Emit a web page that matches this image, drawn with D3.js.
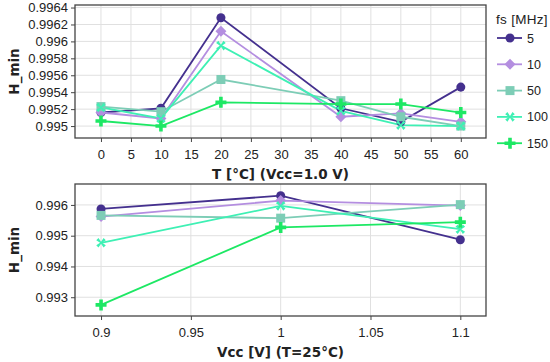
<!DOCTYPE html>
<html><head><meta charset="utf-8">
<script src="https://cdn.jsdelivr.net/npm/d3@7"></script>
<style>body{margin:0;background:#fff}svg{font-family:"DejaVu Sans",Verdana,sans-serif}</style>
</head><body><svg id="c" width="550" height="362"></svg>
<script>
const seriesNames = ["5","10","50","100","150"];
const colors = ["#44308e","#b48ee0","#7dcdb6","#3ef0b4","#1de864"];
const symbols = ["circle","diamond","square","x","cross"];
const tempX = [0,10,20,40,50,60];
const tempVals = [
  [0.99516,0.99521,0.99628,0.99521,0.99505,0.99546],
  [0.99516,0.99509,0.99612,0.99511,0.99515,0.99505],
  [0.99523,0.99517,0.99555,0.99530,0.99511,0.99500],
  [0.99522,0.99509,0.99595,0.99518,0.99501,0.99500],
  [0.99506,0.99500,0.99528,0.99526,0.99526,0.99516]
];
const vccX = [0.9,1.0,1.1];
const vccVals = [
  [0.99587,0.99630,0.99487],
  [0.99562,0.99614,0.99598],
  [0.99566,0.99557,0.99601],
  [0.99477,0.99597,0.99521],
  [0.99275,0.99527,0.99544]
];
const tempTicksX = d3.range(0,61,5);
const tempTicksY = [0.995,0.9952,0.9954,0.9956,0.9958,0.996,0.9962,0.9964];
const vccTicksX = [0.9,0.95,1,1.05,1.1];
const vccTicksY = [0.993,0.994,0.995,0.996];

const svg = d3.select("#c");
const L = 75, R = 486;

function symPath(sym){
  if(sym==="circle") return d3.symbol(d3.symbolCircle, 64)();
  if(sym==="diamond") return "M0,-5.5L5.5,0L0,5.5L-5.5,0Z";
  if(sym==="square") return "M-4.5,-4.5H4.5V4.5H-4.5Z";
  if(sym==="x") { const a=1.6,b=4.8; return `M${-b},${-b+a*1.4}L${-b+a*1.4},${-b}L0,${-a*0.6}L${b-a*1.4},${-b}L${b},${-b+a*1.4}L${a*0.6},0L${b},${b-a*1.4}L${b-a*1.4},${b}L0,${a*0.6}L${-b+a*1.4},${b}L${-b},${b-a*1.4}L${-a*0.6},0Z`; }
  if(sym==="cross") { const a=1.8,b=5.5; return `M${-a},${-b}H${a}V${-a}H${b}V${a}H${a}V${b}H${-a}V${a}H${-b}V${-a}H${-a}Z`; }
}

function panel(top, bottom, xdom, ydom, xs, vals, xticks, yticks, xfmt, yfmt, title){
  const x = d3.scaleLinear().domain(xdom).range([L,R]);
  const y = d3.scaleLinear().domain(ydom).range([bottom,top]);
  const g = svg.append("g");
  g.append("g").selectAll("line").data(xticks).join("line")
    .attr("x1",d=>x(d)).attr("x2",d=>x(d)).attr("y1",top).attr("y2",bottom)
    .attr("stroke","#e0e0e0").attr("stroke-width",1);
  g.append("g").selectAll("line").data(yticks).join("line")
    .attr("y1",d=>y(d)).attr("y2",d=>y(d)).attr("x1",L).attr("x2",R)
    .attr("stroke","#e0e0e0").attr("stroke-width",1);
  const ax = g.append("g").attr("transform",`translate(0,${bottom})`)
    .call(d3.axisBottom(x).tickValues(xticks).tickFormat(xfmt).tickSize(4).tickPadding(8));
  const ay = g.append("g").attr("transform",`translate(${L},0)`)
    .call(d3.axisLeft(y).tickValues(yticks).tickFormat(yfmt).tickSize(4).tickPadding(3));
  [ax,ay].forEach(a=>{a.select(".domain").remove();
    a.selectAll("line").attr("stroke","#444");
    a.selectAll("text").attr("font-size",13).attr("fill","#222");});
  g.append("rect").attr("x",L).attr("y",top).attr("width",R-L).attr("height",bottom-top)
    .attr("fill","none").attr("stroke","#444").attr("stroke-width",1.3);
  const line = d3.line().x((d,i)=>x(xs[i])).y(d=>y(d));
  vals.forEach((v,si)=>{
    g.append("path").datum(v).attr("d",line).attr("fill","none")
      .attr("stroke",colors[si]).attr("stroke-width",1.8);
  });
  vals.forEach((v,si)=>{
    g.append("g").selectAll("path").data(v).join("path")
      .attr("transform",(d,i)=>`translate(${x(xs[i])},${y(d)})`)
      .attr("d",symPath(symbols[si])).attr("fill",colors[si]);
  });
  svg.append("text").attr("x",(L+R)/2).attr("y",bottom+41).attr("text-anchor","middle")
    .attr("font-size",13.5).attr("font-weight","bold").attr("fill","#222").text(title);
  svg.append("text").attr("transform",`translate(19,${(top+bottom)/2}) rotate(-90)`)
    .attr("text-anchor","middle").attr("font-size",13.5).attr("font-weight","bold").attr("fill","#222").text("H_min");
}
const trim = d=>String(+d.toFixed(4));
panel(5,138,[-4.33,64.2],[0.994859,0.99643],tempX,tempVals,tempTicksX,tempTicksY,d=>d,trim,"T [°C] (Vcc=1.0 V)");
panel(184,316,[0.8855,1.1143],[0.99239,0.99668],vccX,vccVals,vccTicksX,vccTicksY,d=>String(+d.toFixed(2)),trim,"Vcc [V] (T=25°C)");

const lg = svg.append("g").attr("font-family","'Liberation Sans',Arial,sans-serif");
lg.append("text").attr("x",496).attr("y",23.5).attr("font-size",13.5).attr("letter-spacing",0.3).attr("fill","#222").text("fs [MHz]");
seriesNames.forEach((n,i)=>{
  const yy = 38 + i*26.3;
  lg.append("line").attr("x1",497).attr("x2",522).attr("y1",yy).attr("y2",yy).attr("stroke",colors[i]).attr("stroke-width",1.8);
  lg.append("path").attr("transform",`translate(510,${yy})`).attr("d",symPath(symbols[i])).attr("fill",colors[i]);
  lg.append("text").attr("x",527).attr("y",yy+4.5).attr("font-size",12.5).attr("fill","#222").text(n);
});
</script></body></html>
